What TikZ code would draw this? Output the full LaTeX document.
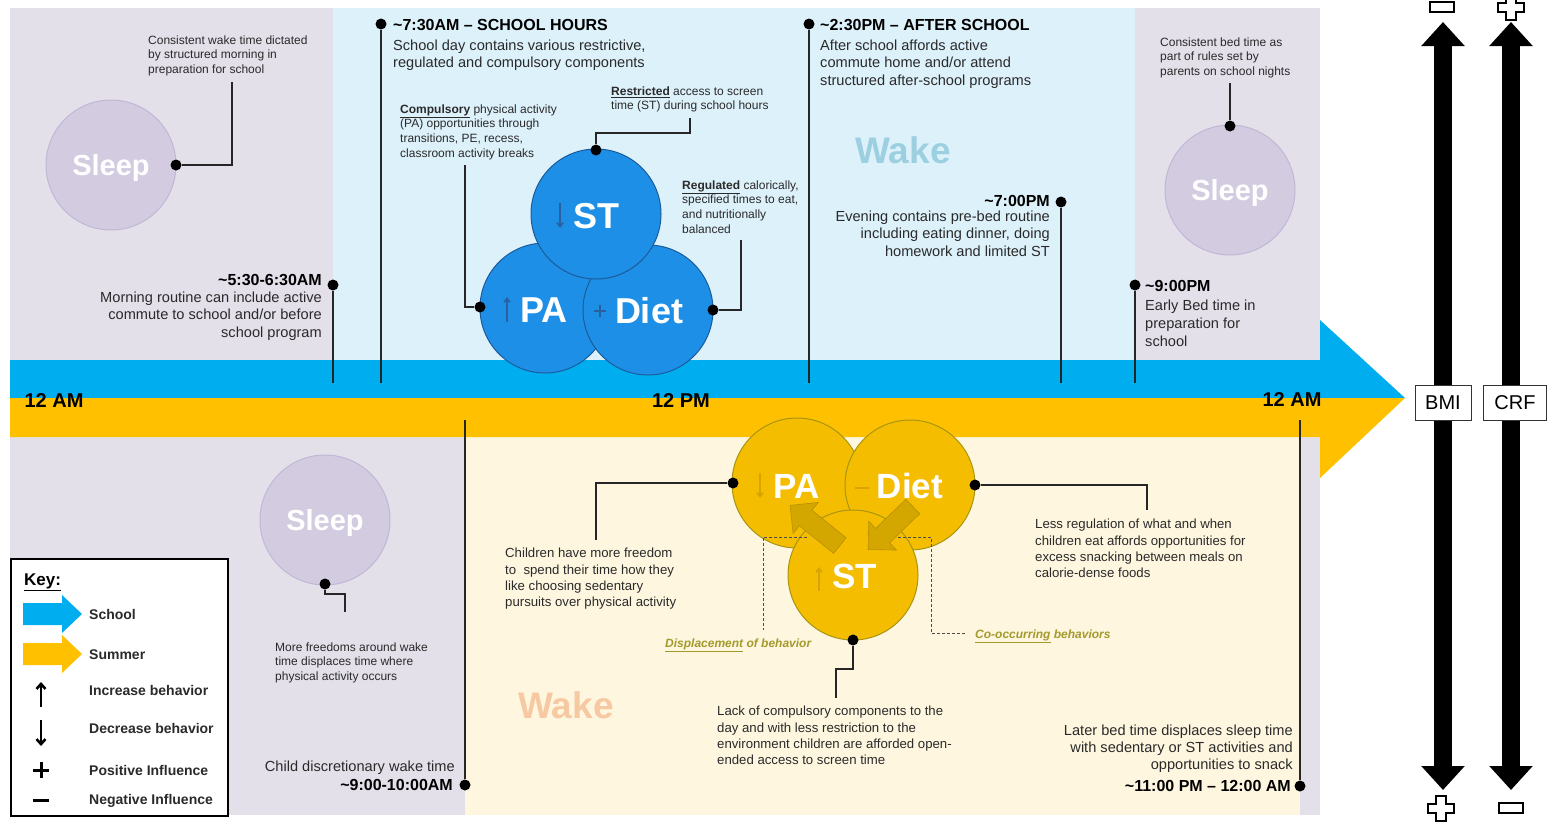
\documentclass[tikz,border=0pt]{standalone}
\usepackage{fontspec}
\setmainfont{Liberation Sans}
\usetikzlibrary{arrows.meta}
\newcommand\fsz[2]{\fontsize{#1}{#2}\selectfont}
\definecolor{lav}{HTML}{E3E0EA}
\definecolor{skyp}{HTML}{DDF1FB}
\definecolor{cream}{HTML}{FEF6DF}
\definecolor{schoolblue}{HTML}{00AEEF}
\definecolor{summeryel}{HTML}{FFC000}
\definecolor{sleepfill}{HTML}{D3CBE0}
\definecolor{sleepedge}{HTML}{C3B7D6}
\definecolor{bcirc}{HTML}{1E8FE6}
\definecolor{bcircD}{HTML}{1A5C9A}
\definecolor{bsym}{HTML}{2A5FA0}
\definecolor{ycirc}{HTML}{F5BD00}
\definecolor{ycircD}{HTML}{A89512}
\definecolor{ysym}{HTML}{D8A400}
\definecolor{yarr}{HTML}{D3A600}
\definecolor{yarrD}{HTML}{B89000}
\definecolor{olive}{HTML}{A39A2C}
\definecolor{wakeblue}{HTML}{9CCFE0}
\definecolor{wakepeach}{HTML}{F6C9A2}
\definecolor{txt}{HTML}{2A2A2A}
\begin{document}
\begin{tikzpicture}[x=1pt,y=-1pt,
  dot/.style={circle,fill=black,inner sep=0pt,minimum size=11pt},
  ln/.style={line width=1.3pt,draw=black!85},
  dsh/.style={line width=0.9pt,draw=black!70,dash pattern=on 3pt off 2pt},
  sleepc/.style={circle,fill=sleepfill,draw=sleepedge,line width=1pt,minimum size=130pt,inner sep=0pt},
  bc/.style={circle,fill=bcirc,draw=bcircD,line width=1pt,minimum size=130pt,inner sep=0pt},
  yc/.style={circle,fill=ycirc,draw=ycircD,line width=1pt,minimum size=130pt,inner sep=0pt},
  big/.style={font=\bfseries\fsz{36}{36},text=white,inner sep=0pt,anchor=base},
  ybig/.style={font=\bfseries\fsz{35}{35},text=white,inner sep=0pt,anchor=base},
  sleept/.style={font=\bfseries\fsz{29}{29},text=white,inner sep=0pt,anchor=base},
  small/.style={font=\fsz{12}{14.6},text=txt,inner sep=0pt,align=left,anchor=north west},
  mid/.style={font=\fsz{13.2}{16.3},text=txt,inner sep=0pt,align=left,anchor=north west},
  body/.style={font=\fsz{14.6}{17.5},text=txt,inner sep=0pt},
  head/.style={font=\bfseries\fsz{16}{16},text=black,inner sep=0pt},
  hour/.style={font=\bfseries\fsz{20}{20},text=black,inner sep=0pt,anchor=base},
  keyt/.style={font=\bfseries\fsz{14}{14},text=txt,inner sep=0pt,anchor=base west},
  bsy/.style={line width=1.6pt,draw=bsym,-{Straight Barb[length=4pt,width=6pt]}},
  ysy/.style={line width=1.6pt,draw=ysym,-{Straight Barb[length=4pt,width=6pt]}},
  ksy/.style={line width=2.6pt,draw=black,-{Straight Barb[length=5pt,width=9pt]}},
  yarrow/.style={fill=yarr,draw=yarrD,line width=0.6pt},
  bigarrow/.style={line width=18pt,draw=black,{Triangle[width=42pt,length=24pt]}-{Triangle[width=42pt,length=24pt]}},
  outl/.style={fill=white,draw=black,line width=1.4pt},
  mbox/.style={draw=black!80,fill=white,line width=1pt,font=\fsz{20}{20},minimum width=56pt,minimum height=35pt,inner sep=0pt},
  olab/.style={font=\bfseries\itshape\fsz{12}{12},text=olive,inner sep=0pt,anchor=base west}
]
\useasboundingbox (0,0) rectangle (1567,825);
\fill[white] (0,0) rectangle (1567,825);
% panels
\fill[lav] (10,8) rectangle (333,360);
\fill[skyp] (333,8) rectangle (1135,360);
\fill[lav] (1135,8) rectangle (1320,360);
\fill[lav] (10,437) rectangle (465,815);
\fill[cream] (465,437) rectangle (1300,815);
\fill[lav] (1300,437) rectangle (1320,815);
% time bands
\fill[schoolblue] (10,360) -- (1320,360) -- (1320,320) -- (1405,398) -- (10,398) -- cycle;
\fill[summeryel] (10,398) -- (1405,398) -- (1320,478) -- (1320,437) -- (10,437) -- cycle;

% Wake labels
\node[font=\bfseries\fsz{37}{37},text=wakeblue,inner sep=0pt,anchor=base] (wake1) at (903,163) {Wake};
\node[font=\bfseries\fsz{37}{37},text=wakepeach,inner sep=0pt,anchor=base] (wake2) at (566,718) {Wake};

% sleep circles
\node[sleepc] (sl1) at (111,165) {};
\node[sleept] at (111,175.5) {Sleep};
\node[sleepc] (sl2) at (1230,190) {};
\node[sleept] at (1230,200.5) {Sleep};
\node[sleepc] (sl3) at (325,520) {};
\node[sleept] at (325,530.5) {Sleep};

% blue circles
\node[bc] (bpa) at (545,308) {};
\node[bc] (bdiet) at (648,310) {};
\node[bc] (bst) at (596,214) {};
\node[big] at (596,228) {ST};
\draw[bsy] (560,203) -- (560,228);
\node[big] at (544,322) {PA};
\draw[bsy] (507,322) -- (507,297);
\node[big] at (649,323) {Diet};
\draw[line width=1.6pt,draw=bsym] (594,311) -- (606,311) (600,305) -- (600,317);

% yellow circles
\node[yc] (ypa) at (797,483) {};
\node[yc] (ydiet) at (910,485) {};
\node[yc] (yst) at (853,575) {};
\node[ybig] at (797,498) {PA};
\draw[ysy] (760,473) -- (760,498);
\node[ybig] at (910,498) {Diet};
\draw[line width=1.6pt,draw=ysym] (855,488) -- (869,488);
\node[ybig] at (855,588) {ST};
\draw[ysy] (819,591) -- (819,567);
% block arrows between behaviours
\begin{scope}[shift={(815,525.5)},rotate=141]
\draw[yarrow] (-32,-10) -- (12,-10) -- (12,-20) -- (32,0) -- (12,20) -- (12,10) -- (-32,10) -- cycle;
\end{scope}
\begin{scope}[shift={(890.5,528)},rotate=224]
\draw[yarrow] (-31,-10) -- (11,-10) -- (11,-20) -- (31,0) -- (11,20) -- (11,10) -- (-31,10) -- cycle;
\end{scope}

% dashed brackets
\coordinate (dl1) at (807,537); \coordinate (dl2) at (763,537); \coordinate (dl3) at (763,630);
\draw[dsh] (dl1) -- (dl2) -- (dl3);
\coordinate (dr1) at (898,537); \coordinate (dr2) at (931,537); \coordinate (dr3) at (931,633); \coordinate (dr4) at (965,633);
\draw[dsh] (dr1) -- (dr2) -- (dr3) -- (dr4);
\node[olab] (displ) at (665,647) {\underline{Displacement} of behavior};
\node[olab] (cooc) at (975,638) {\underline{Co-occurring} behaviors};

% timeline markers (top)
\node[dot] (t1) at (333,285) {}; \coordinate (t1e) at (333,383);
\node[dot] (t2) at (381,24) {};  \coordinate (t2e) at (381,383);
\node[dot] (t3) at (809,24) {};  \coordinate (t3e) at (809,383);
\node[dot] (t4) at (1061,202) {}; \coordinate (t4e) at (1061,383);
\node[dot] (t5) at (1135,285) {}; \coordinate (t5e) at (1135,383);
\draw[ln] (t1) -- (t1e); \draw[ln] (t2) -- (t2e); \draw[ln] (t3) -- (t3e);
\draw[ln] (t4) -- (t4e); \draw[ln] (t5) -- (t5e);
% timeline markers (bottom)
\node[dot] (b1) at (465,785) {}; \coordinate (b1e) at (465,420);
\node[dot] (b2) at (1300,786) {}; \coordinate (b2e) at (1300,420);
\draw[ln] (b1) -- (b1e); \draw[ln] (b2) -- (b2e);

% callout connectors
\node[dot] (c1) at (176,165) {}; \draw[ln] (c1) -- (232,165) -- (232,82);
\node[dot] (c2) at (1230,126) {}; \draw[ln] (c2) -- (1230,83);
\node[dot] (c3) at (596,150) {}; \draw[ln] (c3) -- (596,133) -- (690,133) -- (690,118);
\node[dot] (c4) at (480,307) {}; \draw[ln] (c4) -- (465,307) -- (465,165);
\node[dot] (c5) at (713,310) {}; \draw[ln] (c5) -- (741,310) -- (741,240);
\node[dot] (c6) at (325,584) {}; \draw[ln] (c6) -- (325,594) -- (345,594) -- (345,612);
\node[dot] (c7) at (733,483) {}; \draw[ln] (c7) -- (596,483) -- (596,540);
\node[dot] (c8) at (975,485) {}; \draw[ln] (c8) -- (1147,485) -- (1147,510);
\node[dot] (c9) at (853,640) {}; \draw[ln] (c9) -- (853,669) -- (836,669) -- (836,698);

% hour labels
\node[hour] (h1) at (54,407) {12 AM};
\node[hour] (h2) at (681,407) {12 PM};
\node[hour] (h3) at (1292,406) {12 AM};

% callout texts
\node[small] (ct1) at (148,35.4) {Consistent wake time dictated\\by structured morning in\\preparation for school};
\node[small] (ct2) at (1160,37.4) {Consistent bed time as\\part of rules set by\\parents on school nights};
\node[small] (ct3) at (611,86.4) {\textbf{\underline{Restricted}} access to screen\\time (ST) during school hours};
\node[small] (ct4) at (400,104.4) {\textbf{\underline{Compulsory}} physical activity\\(PA) opportunities through\\transitions, PE, recess,\\classroom activity breaks};
\node[small] (ct5) at (682,180.4) {\textbf{\underline{Regulated}} calorically,\\specified times to eat,\\and nutritionally\\balanced};
\node[small] (ct6) at (275,642.4) {More freedoms around wake\\time displaces time where\\physical activity occurs};
\node[mid] (ct7) at (505,548) {Children have more freedom\\to\ \ spend their time how they\\like choosing sedentary\\pursuits over physical activity};
\node[mid] (ct8) at (1035,519) {Less regulation of what and when\\children eat affords opportunities for\\excess snacking between meals on\\calorie-dense foods};
\node[mid] (ct9) at (717,706) {Lack of compulsory components to the\\day and with less restriction to the\\environment children are afforded open-\\ended access to screen time};

% timeline texts
\node[head,anchor=base east] (th1) at (322,285.5) {\textasciitilde 5:30-6:30AM};
\node[body,align=right,anchor=north east] (tb1) at (322,291.6) {Morning routine can include active\\commute to school and/or before\\school program};
\node[head,anchor=base west] (th2) at (393,30.5) {\textasciitilde 7:30AM – SCHOOL HOURS};
\node[body,align=left,anchor=north west] (tb2) at (393,39.6) {School day contains various restrictive,\\regulated and compulsory components};
\node[head,anchor=base west] (th3) at (820,30.5) {\textasciitilde 2:30PM – AFTER SCHOOL};
\node[body,align=left,anchor=north west] (tb3) at (820,39.6) {After school affords active\\commute home and/or attend\\structured after-school programs};
\node[head,anchor=base east] (th4) at (1050,206.5) {\textasciitilde 7:00PM};
\node[body,align=right,anchor=north east] (tb4) at (1050,210.6) {Evening contains pre-bed routine\\including eating dinner, doing\\homework and limited ST};
\node[head,anchor=base west] (th5) at (1145,291.5) {\textasciitilde 9:00PM};
\node[body,align=left,anchor=north west,font=\fsz{14.6}{18}] (tb5) at (1145,299.6) {Early Bed time in\\preparation for\\school};
\node[body,anchor=base east] (tb6) at (455,771) {Child discretionary wake time};
\node[head,anchor=base east] (th6) at (453,790.5) {\textasciitilde 9:00-10:00AM};
\node[body,align=right,anchor=north east,font=\fsz{14.6}{17}] (tb7) at (1293,724.6) {Later bed time displaces sleep time\\with sedentary or ST activities and\\opportunities to snack};
\node[head,anchor=base east] (th7) at (1291,791.5) {\textasciitilde 11:00 PM – 12:00 AM};

% key
\node[draw=black,line width=2pt,fill=white,minimum width=217pt,minimum height=257pt,anchor=north west,inner sep=0pt] (key) at (10,558) {};
\node[font=\bfseries\fsz{17}{17},inner sep=0pt,anchor=base west] (keyt) at (24,585) {\underline{Key:}};
\fill[schoolblue] (23,603) -- (62,603) -- (62,595) -- (82,614) -- (62,633) -- (62,625) -- (23,625) -- cycle;
\fill[summeryel] (23,643) -- (62,643) -- (62,635) -- (82,654) -- (62,673) -- (62,665) -- (23,665) -- cycle;
\node[keyt] (k1) at (89,619) {School};
\node[keyt] (k2) at (89,659) {Summer};
\draw[ksy] (41,707) -- (41,682);
\node[keyt] (k3) at (89,695) {Increase behavior};
\draw[ksy] (41,720) -- (41,746);
\node[keyt] (k4) at (89,733.5) {Decrease behavior};
\draw[line width=3pt] (33,770) -- (49,770) (41,762) -- (41,778);
\node[keyt] (k5) at (89,775) {Positive Influence};
\draw[line width=3pt] (33,800) -- (49,800);
\node[keyt] (k6) at (89,804) {Negative Influence};

% outcome arrows
\coordinate (bmiT) at (1443,22); \coordinate (bmiB) at (1443,790);
\coordinate (crfT) at (1511,22); \coordinate (crfB) at (1511,790);
\draw[bigarrow] (bmiT) -- (bmiB);
\draw[bigarrow] (crfT) -- (crfB);
\node[mbox] (bmi) at (1443,403) {BMI};
\node[mbox,minimum width=63pt] (crf) at (1515,403) {CRF};
% plus / minus outlines
\draw[outl] (1430,2) rectangle (1454,12);
\draw[outl] (1506,-5) -- (1516,-5) -- (1516,3) -- (1524,3) -- (1524,12) -- (1516,12) -- (1516,20) -- (1506,20) -- (1506,12) -- (1498,12) -- (1498,3) -- (1506,3) -- cycle;
\draw[outl] (1436,796) -- (1446,796) -- (1446,804) -- (1454,804) -- (1454,813) -- (1446,813) -- (1446,821) -- (1436,821) -- (1436,813) -- (1428,813) -- (1428,804) -- (1436,804) -- cycle;
\draw[outl] (1499,803) rectangle (1523,813);
\end{tikzpicture}
\end{document}
